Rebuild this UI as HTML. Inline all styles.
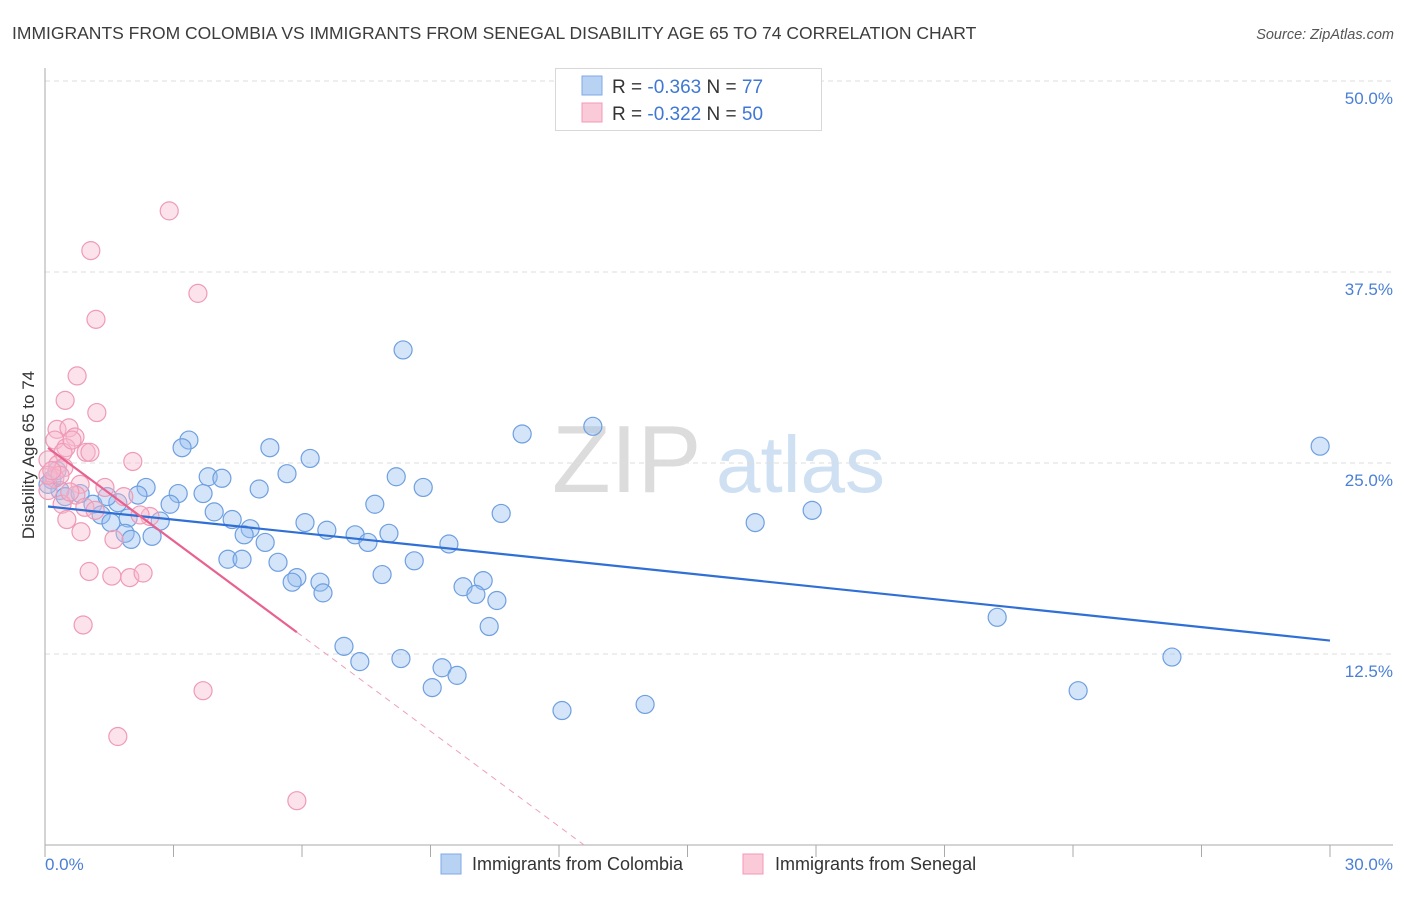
<!DOCTYPE html>
<html><head><meta charset="utf-8"><style>
body{margin:0;background:#fff;font-family:"Liberation Sans",sans-serif;}
svg text{font-family:"Liberation Sans",sans-serif;}
</style></head><body>
<svg id="chart" width="1406" height="892" xmlns="http://www.w3.org/2000/svg">
<text x="12" y="39" font-size="17.5" fill="#3c3c3c">IMMIGRANTS FROM COLOMBIA VS IMMIGRANTS FROM SENEGAL DISABILITY AGE 65 TO 74 CORRELATION CHART</text>
<text x="1394" y="39" font-size="14.5" fill="#555" font-style="italic" text-anchor="end">Source: ZipAtlas.com</text>
<g>
<text x="552" y="492" font-size="96" fill="#dcdcdc" font-family="Liberation Serif,serif">ZIP</text>
<text x="716" y="492" font-size="80" fill="#cfe0f3">atlas</text>
</g>
<g id="grid"></g>
<g id="axes"></g>
<g id="marks"></g>
<text transform="translate(34,455) rotate(-90)" font-size="17" fill="#333" text-anchor="middle">Disability Age 65 to 74</text>
<text x="45" y="870" font-size="17" fill="#4a7fd6">0.0%</text>
<text x="1393" y="870" font-size="17" fill="#4a7fd6" text-anchor="end">30.0%</text>
<g>
<rect x="555.5" y="68.5" width="266" height="62" fill="#fff" stroke="#d8d8d8"/>
<rect x="582" y="76" width="20" height="19" fill="#b8d2f4" stroke="#7ea9e4"/>
<rect x="582" y="103" width="20" height="19" fill="#fbcad8" stroke="#f19ab5"/>
<text x="612" y="93" font-size="19" fill="#333">R = <tspan fill="#3f77d3">-0.363</tspan>   N = <tspan fill="#3f77d3"> 77</tspan></text>
<text x="612" y="120" font-size="19" fill="#333">R = <tspan fill="#3f77d3">-0.322</tspan>   N = <tspan fill="#3f77d3">50</tspan></text>
</g>
<g>
<rect x="441" y="854" width="20" height="20" fill="#b8d2f4" stroke="#7ea9e4"/>
<text x="472" y="870" font-size="18" fill="#333">Immigrants from Colombia</text>
<rect x="743" y="854" width="20" height="20" fill="#fbcad8" stroke="#f19ab5"/>
<text x="775" y="870" font-size="18" fill="#333">Immigrants from Senegal</text>
</g>
</svg>
<script>
const yTicks=[12.5,25,37.5,50];
const yTickLabels=["12.5%","25.0%","37.5%","50.0%"];
const xTicks=[0,3,6,9,12,15,18,21,24,27,30];
const colX=[8.36,3.36,3.20,5.25,6.19,5.65,8.20,3.81,4.13,5.00,8.83,2.36,3.11,2.17,3.69,0.16,0.35,0.47,0.82,1.12,1.70,2.92,7.70,3.95,1.31,1.54,1.94,2.69,4.37,6.07,6.58,4.79,4.65,1.87,2.50,2.01,7.24,7.54,8.03,5.14,9.43,4.27,4.60,5.44,8.62,7.87,5.88,5.77,6.42,10.23,9.76,10.06,6.49,10.55,10.37,6.98,7.35,8.31,9.27,9.62,9.04,12.07,14.01,11.14,12.79,10.65,16.58,17.91,22.23,26.31,24.12,29.77,0.28,0.07,1.45];
const colY=[32.4,26.5,26.0,26.0,25.3,24.3,24.1,24.1,24.0,23.3,23.4,23.4,23.0,22.9,23.0,23.9,23.2,22.8,23.0,22.3,22.4,22.3,22.3,21.8,21.6,21.1,21.4,21.2,21.3,21.1,20.6,20.7,20.3,20.4,20.2,20.0,20.3,19.8,20.4,19.8,19.7,18.7,18.7,18.5,18.6,17.7,17.5,17.2,17.2,17.3,16.9,16.4,16.5,16.0,14.3,13.0,12.0,12.2,11.6,11.1,10.3,8.8,9.2,26.9,27.4,21.7,21.1,21.9,14.9,12.3,10.1,26.1,24.5,23.6,22.8];
const senX=[2.90,1.07,3.57,1.19,0.75,0.47,1.21,0.28,0.56,0.70,0.23,0.49,0.96,1.05,0.42,0.07,0.30,0.44,2.05,0.23,0.82,0.07,0.72,1.40,0.40,0.93,1.84,2.45,0.51,0.84,1.61,1.03,1.56,1.98,2.29,0.89,3.69,1.70,5.88,0.07,0.35,0.16,0.58,1.17,0.63,2.22];
const senY=[41.5,38.9,36.1,34.4,30.7,29.1,28.3,27.2,27.3,26.7,26.5,26.0,25.7,25.7,25.7,25.2,24.9,24.7,25.1,24.0,23.6,23.2,22.9,23.4,22.3,22.1,22.8,21.5,21.3,20.5,20.0,17.9,17.6,17.5,17.8,14.4,10.1,7.1,2.9,24.2,24.2,24.5,23.1,21.9,26.5,21.6];
const colLine=[22.2,13.55]; // fitted values at x=0 and x=30 (reference reading)
const senLine=[26.3,14.3];  // at x=0 and x=6

const NS="http://www.w3.org/2000/svg";
const X0=45,X1=1330,Y0=845,PXY=15.28;
const sx=v=>X0+(X1-X0)*v/30;
const sy=v=>Y0-v*PXY;
function mk(tag,attrs,parent){const e=document.createElementNS(NS,tag);for(const k in attrs)e.setAttribute(k,attrs[k]);parent.appendChild(e);return e;}
const grid=document.getElementById('grid'),axes=document.getElementById('axes'),marks=document.getElementById('marks');
yTicks.forEach((t,i)=>{
  const l=mk('line',{x1:X0,x2:1393,y1:sy(t),y2:sy(t),stroke:'#dedede','stroke-dasharray':'5,4'},grid);
  
  
  const tx=mk('text',{x:1393,y:sy(t)+23,'font-size':17,fill:'#4a7fd6','text-anchor':'end'},grid);
  tx.textContent=yTickLabels[i];
  
  
});
const ya=mk('line',{x1:X0,x2:X0,y1:68,y2:Y0,stroke:'#aaa'},axes);


const xa=mk('line',{x1:X0,x2:1393,y1:Y0,y2:Y0,stroke:'#aaa'},axes);


xTicks.forEach(t=>{
  const l=mk('line',{x1:sx(t),x2:sx(t),y1:Y0,y2:Y0+12,stroke:'#aaa'},axes);
  
  
});
function fit(xs,ys){const n=xs.length;let mx=0,my=0;for(let i=0;i<n;i++){mx+=xs[i];my+=ys[i];}mx/=n;my/=n;let sxy=0,sxx=0;for(let i=0;i<n;i++){sxy+=(xs[i]-mx)*(ys[i]-my);sxx+=(xs[i]-mx)**2;}const b=sxy/sxx;return [my-b*mx,b];}
colX.forEach((x,i)=>{
  const c=mk('circle',{cx:sx(x),cy:sy(colY[i]),r:9,fill:'rgba(150,190,240,0.4)',stroke:'#6e9fe0','stroke-width':1.2},marks);
  
  
});
senX.forEach((x,i)=>{
  const c=mk('circle',{cx:sx(x),cy:sy(senY[i]),r:9,fill:'rgba(248,185,205,0.4)',stroke:'#ef9ab6','stroke-width':1.2},marks);
  
  
});
// trend lines from regression of data
const [ca,cb]=fit(colX,colY);
const cmin=Math.min(...colX);
const bl=mk('line',{x1:sx(cmin),y1:sy(ca+cb*cmin),x2:sx(30),y2:sy(ca+cb*30),stroke:'#2f6fd6','stroke-width':2.2},marks);


const [pa,pb]=fit(senX,senY);
const pmin=Math.min(...senX),pmax=Math.max(...senX);
const pl=mk('line',{x1:sx(pmin),y1:sy(pa+pb*pmin),x2:sx(pmax),y2:sy(pa+pb*pmax),stroke:'#e8628f','stroke-width':2.2},marks);


const xz=pb<0?Math.min(30,-pa/pb):30;
const pd=mk('line',{x1:sx(pmax),y1:sy(pa+pb*pmax),x2:sx(xz),y2:sy(pa+pb*xz),stroke:'#eea0b8','stroke-width':1,'stroke-dasharray':'6,5'},marks);


</script>
</body></html>
